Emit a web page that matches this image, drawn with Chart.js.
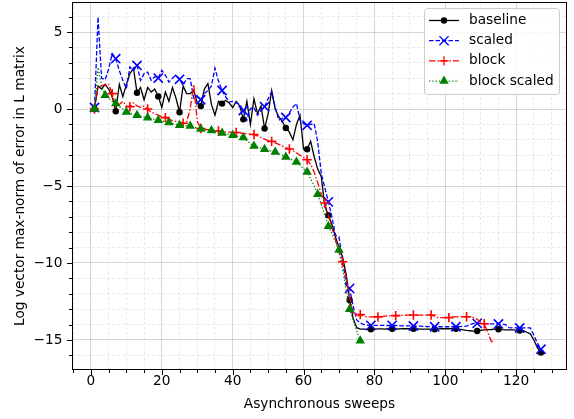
<!DOCTYPE html>
<html>
<head>
<meta charset="utf-8">
<script src="https://cdn.jsdelivr.net/npm/chart.js@4.4.0/dist/chart.umd.min.js"></script>
<style>
  html, body { margin: 0; padding: 0; background: #fff; }
  #wrap { width: 574px; height: 419px; }
</style>
</head>
<body>
<div id="wrap"><canvas id="chart" width="574" height="419"></canvas></div>
<script>
// sweeps 1..127
const SWEEPS = Array.from({ length: 127 }, (_, i) => i + 1);

const BASELINE = [
  0.0, 1.5, 1.3, 1.6, 1.3, 0.8, -0.15, 1.6, 0.8, 1.6,
  2.3, 2.65, 1.06, 1.4, 0.6, 1.4, 1.1, 1.3, 0.82, 0.1,
  1.1, 0.5, 1.4, 0.7, -0.21, 1.5, 1.0, 1.0, 1.2, 0.4,
  0.19, 1.3, 1.65, 0.3, -0.4, 0.5, 0.35, 0.56, 0.4, 0.1,
  0.5, 0.2, -0.67, 0.5, -1.0, 0.67, -0.3, 0.2, -1.27, -0.3,
  1.2, 0.0, -0.5, -0.8, -1.23, -1.5, -2.0, -1.0, -0.4, -2.6,
  -2.61, -2.1, -3.1, -3.9, -4.4, -6.3, -6.9, -7.5, -8.3, -9.0,
  -9.6, -10.7, -12.4, -13.6, -14.2, -14.3, -14.3, -14.32, -14.3, -14.3,
  -14.28, -14.28, -14.3, -14.27, -14.27, -14.28, -14.28, -14.27, -14.27, -14.27,
  -14.27, -14.28, -14.3, -14.3, -14.3, -14.3, -14.3, -14.28, -14.27, -14.27,
  -14.27, -14.27, -14.27, -14.3, -14.35, -14.38, -14.4, -14.42, -14.42, -14.38,
  -14.35, -14.33, -14.32, -14.3, -14.3, -14.33, -14.35, -14.35, -14.35, -14.36,
  -14.38, -14.4, -14.5, -14.6, -15.0, -15.5, -15.82
];

const SCALED = [
  0.1, 5.97, 2.0, 1.9, 2.6, 3.6, 3.27, 2.5, 1.86, 1.32,
  2.73, 2.5, 2.83, 1.86, 2.3, 2.4, 1.86, 2.1, 2.01, 2.51,
  2.2, 1.75, 2.0, 2.2, 1.93, 1.54, 1.97, 1.97, 0.7, 0.8,
  0.6, 1.0, 1.2, 1.5, 2.65, 1.8, 1.2, 0.8, 0.45, 0.5,
  0.4, 0.3, -0.1, -0.73, 0.03, 0.1, -0.41, -0.1, 0.15, 0.67,
  1.1, 0.13, -0.73, -0.6, -0.55, -0.25, 0.13, 0.35, -0.73, -0.95,
  -1.06, -1.0, -0.95, -2.14, -4.2, -5.1, -6.03, -7.0, -8.19, -8.3,
  -9.8, -11.3, -11.65, -12.8, -13.7, -13.9, -14.0, -14.03, -14.05, -14.05,
  -14.05, -14.05, -14.06, -14.06, -14.05, -14.06, -14.07, -14.08, -14.08, -14.09,
  -14.09, -14.1, -14.1, -14.12, -14.13, -14.14, -14.14, -14.14, -14.14, -14.14,
  -14.14, -14.14, -14.14, -14.13, -14.12, -14.1, -14.0, -13.92, -13.92, -13.92,
  -13.94, -13.95, -13.96, -13.96, -13.96, -13.97, -14.0, -14.2, -14.22, -14.22,
  -14.22, -14.22, -14.22, -14.22, -14.7, -15.2, -15.6
];

const BLOCK = [
  0.0, 1.4, 1.5, 1.6, 1.6, 1.0, 0.1, 0.3, 0.5, 0.2,
  0.15, 0.4, 0.2, 0.1, 0.2, 0.0, -0.2, -0.3, -0.4, -0.5,
  -0.56, -0.65, -0.75, -0.8, -0.85, -0.92, -0.85, 0.0, 1.6, -0.8,
  -1.27, -1.3, -1.35, -1.4, -1.42, -1.43, -1.45, -1.48, -1.5, -1.52,
  -1.53, -1.55, -1.58, -1.6, -1.62, -1.66, -1.75, -1.85, -1.95, -2.05,
  -2.1, -2.2, -2.3, -2.4, -2.5, -2.6, -2.7, -2.85, -3.0, -3.15,
  -3.3, -3.6, -4.1, -4.8, -5.5, -6.1, -6.9, -7.7, -8.5, -9.3,
  -9.92, -10.9, -12.2, -13.2, -13.5, -13.35, -13.45, -13.5, -13.5, -13.5,
  -13.5, -13.48, -13.45, -13.43, -13.42, -13.42, -13.41, -13.4, -13.39, -13.38,
  -13.38, -13.38, -13.38, -13.38, -13.38, -13.38, -13.45, -13.55, -13.55, -13.55,
  -13.55, -13.5, -13.5, -13.5, -13.49, -13.49, -13.5, -13.55, -13.65, -13.85,
  -13.95, -14.5, -15.1, -15.1
];

const BLOCK_SCALED = [
  0.0, 2.7, 1.5, 0.89, 0.7, 0.5, 0.35, 0.15, 0.0, -0.2,
  -0.27, -0.34, -0.41, -0.46, -0.51, -0.56, -0.62, -0.67, -0.73, -0.78,
  -0.83, -0.88, -0.94, -1.0, -1.06, -1.07, -1.08, -1.1, -1.17, -1.24,
  -1.3, -1.33, -1.37, -1.4, -1.45, -1.5, -1.55, -1.6, -1.65, -1.7,
  -1.75, -1.8, -1.85, -2.05, -2.25, -2.4, -2.47, -2.54, -2.61, -2.67,
  -2.73, -2.79, -2.9, -3.0, -3.11, -3.22, -3.33, -3.44, -3.65, -3.87,
  -4.09, -4.55, -5.0, -5.53, -6.2, -6.9, -7.61, -8.1, -8.6, -9.16,
  -10.4, -11.7, -13.0, -13.7, -14.4, -15.05
];

const X_TICKS = Array.from({ length: 28 }, (_, i) => -5 + i * 5);
const Y_TICKS = Array.from({ length: 23 }, (_, i) => -16 + i);

const FONT = "'DejaVu Sans', sans-serif";
const FSIZE = 13.7;
const MAJOR_GRID = '#cbcbcb';
const MINOR_GRID = '#e3e3e3';
const LW = 1.3;

const isMajorX = v => v % 20 === 0;
const isMajorY = v => v % 5 === 0;
const minus = v => String(v).replace('-', '\u2212');

// every n-th sweep gets a marker
const markEvery = (n, r) => ctx => (ctx.dataIndex % n === 0 ? r : 0);

const framePlugin = {
  id: 'frameTicksLegend',
  afterDatasetsDraw(chart) {
    const { ctx, chartArea: a, scales: { x, y } } = chart;
    ctx.save();
    ctx.strokeStyle = '#000';
    ctx.lineWidth = 1;
    ctx.setLineDash([]);
    ctx.beginPath();
    x.ticks.forEach(t => {
      const px = Math.round(x.getPixelForValue(t.value)) + 0.5;
      ctx.moveTo(px, a.bottom);
      ctx.lineTo(px, a.bottom + (isMajorX(t.value) ? 5 : 3));
    });
    y.ticks.forEach(t => {
      const py = Math.round(y.getPixelForValue(t.value)) + 0.5;
      ctx.moveTo(a.left, py);
      ctx.lineTo(a.left - (isMajorY(t.value) ? 5 : 3), py);
    });
    ctx.stroke();
    ctx.strokeRect(a.left + 0.5, a.top + 0.5, a.right - a.left - 1, a.bottom - a.top - 1);

    // legend box, upper right
    const bx = 424, by = 8, bw = 135, bh = 86;
    ctx.beginPath();
    ctx.roundRect(bx + 0.5, by + 0.5, bw, bh, 3);
    ctx.fillStyle = 'rgba(255,255,255,0.85)';
    ctx.fill();
    ctx.strokeStyle = '#cccccc';
    ctx.stroke();

    chart.data.datasets.forEach((ds, i) => {
      const ly = 20.5 + i * 20.2;
      ctx.strokeStyle = ds.borderColor;
      ctx.lineWidth = ds.borderWidth;
      ctx.setLineDash(ds.borderDash || []);
      ctx.beginPath();
      ctx.moveTo(429, ly);
      ctx.lineTo(459, ly);
      ctx.stroke();
      ctx.setLineDash([]);
      ctx.fillStyle = ds.pointBackgroundColor;
      ctx.strokeStyle = ds.pointBorderColor;
      Chart.helpers.drawPoint(ctx, {
        pointStyle: ds.pointStyle,
        radius: ds.legendRadius,
        borderWidth: ds.pointBorderWidth,
        rotation: 0
      }, 444, ly);
      ctx.fillStyle = '#000';
      ctx.font = `${FSIZE}px ${FONT}`;
      ctx.textBaseline = 'middle';
      ctx.textAlign = 'left';
      ctx.fillText(ds.label, 469, ly);
    });
    ctx.restore();
  }
};

new Chart(document.getElementById('chart'), {
  type: 'line',
  data: {
    labels: SWEEPS,
    datasets: [
      {
        label: 'baseline',
        data: BASELINE,
        borderColor: '#000000',
        borderWidth: LW,
        pointStyle: 'circle',
        pointRadius: markEvery(6, 3.2),
        legendRadius: 3.2,
        pointBackgroundColor: '#000000',
        pointBorderColor: '#000000',
        pointBorderWidth: 0,
        order: 4
      },
      {
        label: 'scaled',
        data: SCALED,
        borderColor: '#0000ff',
        borderWidth: LW,
        borderDash: [4.5, 2],
        pointStyle: 'crossRot',
        pointRadius: markEvery(6, 6.5),
        legendRadius: 6.5,
        pointBackgroundColor: '#0000ff',
        pointBorderColor: '#0000ff',
        pointBorderWidth: 1.6,
        order: 3
      },
      {
        label: 'block',
        data: BLOCK,
        borderColor: '#ff0000',
        borderWidth: LW,
        borderDash: [6.5, 2, 1.5, 2],
        pointStyle: 'cross',
        pointRadius: markEvery(5, 4.7),
        legendRadius: 4.7,
        pointBackgroundColor: '#ff0000',
        pointBorderColor: '#ff0000',
        pointBorderWidth: 1.6,
        order: 2
      },
      {
        label: 'block scaled',
        data: BLOCK_SCALED,
        borderColor: '#008000',
        borderWidth: LW,
        borderDash: [1.3, 2],
        pointStyle: 'triangle',
        pointRadius: markEvery(3, 5.5),
        legendRadius: 5.5,
        pointBackgroundColor: '#008000',
        pointBorderColor: '#008000',
        pointBorderWidth: 0,
        order: 1
      }
    ]
  },
  options: {
    responsive: false,
    animation: false,
    devicePixelRatio: 1,
    layout: { autoPadding: false, padding: { top: 2, right: 7, left: 0, bottom: 0 } },
    elements: { line: { tension: 0, fill: false }, point: { hoverRadius: 0 } },
    plugins: { legend: { display: false }, tooltip: { enabled: false } },
    scales: {
      x: {
        type: 'linear',
        min: -5.35,
        max: 134.35,
        afterBuildTicks: s => { s.ticks = X_TICKS.map(v => ({ value: v })); },
        afterFit: s => { s.height = 49; s.paddingLeft = 0; s.paddingRight = 0; },
        ticks: {
          autoSkip: false,
          maxRotation: 0,
          padding: 3,
          color: '#000',
          font: { family: FONT, size: FSIZE },
          callback: v => (isMajorX(v) ? minus(v) : '')
        },
        grid: {
          drawTicks: false,
          lineWidth: 0.8,
          color: ctx => (ctx.tick && isMajorX(ctx.tick.value) ? MAJOR_GRID : MINOR_GRID)
        },
        border: {
          display: false,
          dash: ctx => (ctx.tick && isMajorX(ctx.tick.value) ? [] : [3, 2])
        },
        title: {
          display: true,
          text: 'Asynchronous sweeps',
          color: '#000',
          font: { family: FONT, size: FSIZE },
          padding: { top: 0, bottom: 6.8 }
        }
      },
      y: {
        type: 'linear',
        min: -16.95,
        max: 6.95,
        afterBuildTicks: s => { s.ticks = Y_TICKS.map(v => ({ value: v })); },
        afterFit: s => { s.width = 72; s.paddingTop = 0; s.paddingBottom = 0; },
        ticks: {
          autoSkip: false,
          padding: 9.5,
          color: '#000',
          font: { family: FONT, size: FSIZE },
          callback: v => (isMajorY(v) ? minus(v) : '')
        },
        grid: {
          drawTicks: false,
          lineWidth: 0.8,
          color: ctx => (ctx.tick && isMajorY(ctx.tick.value) ? MAJOR_GRID : MINOR_GRID)
        },
        border: {
          display: false,
          dash: ctx => (ctx.tick && isMajorY(ctx.tick.value) ? [] : [3, 2])
        },
        title: {
          display: true,
          text: 'Log vector max-norm of error in L matrix',
          color: '#000',
          font: { family: FONT, size: FSIZE },
          padding: { top: 11.8, bottom: 0 }
        }
      }
    }
  },
  plugins: [framePlugin]
});
</script>
</body>
</html>
